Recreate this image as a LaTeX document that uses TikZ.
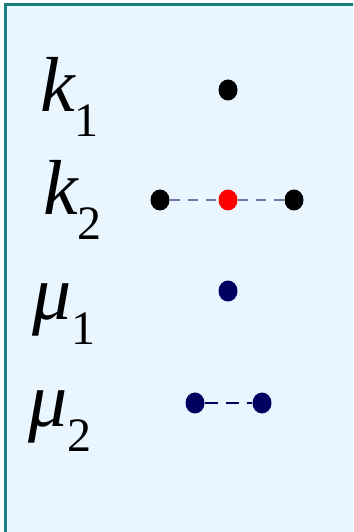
\documentclass[tikz,border=0pt]{standalone}
\usepackage{fontspec}
\setmainfont{Liberation Serif}
\newfontfamily\symfont{Liberation Serif}
\usepackage{xcolor}
\usetikzlibrary{shapes.geometric, positioning}
\definecolor{frameteal}{HTML}{1A7F7F}
\definecolor{panelblue}{HTML}{EAF6FF}
\definecolor{linkgray}{HTML}{7078A8}
\definecolor{darknavy}{HTML}{000060}
\tikzstyle{symlabel} = [anchor=base west, inner sep=0pt, font=\symfont\fontsize{78}{80}\selectfont\itshape]
\tikzstyle{kdot} = [ellipse, minimum width=19pt, minimum height=21pt, inner sep=0pt, fill=black]
\tikzstyle{mudot} = [kdot, fill=darknavy]
\tikzstyle{klink} = [draw=linkgray, line width=2.5pt, dash pattern=on 10pt off 8pt]
\tikzstyle{mulink} = [draw=darknavy, line width=2pt, dash pattern=on 13pt off 8pt]
\newcommand{\lowsub}[1]{\raisebox{-25pt}{\symfont\upshape\fontsize{48}{48}\selectfont #1}}

\begin{document}
\begin{tikzpicture}[x=1pt, y=1pt]
  \useasboundingbox (0,0) rectangle (353,532);
  \clip (0,0) rectangle (353,532);
  \draw[frameteal, line width=3pt, fill=panelblue] (5,-20) rectangle (373,527);
  % symbols
  \node (k1) [symlabel] at (40,420) {k\lowsub{1}};
  \node (k2) [symlabel] at (43,317) {k\lowsub{2}};
  \node (mu1) [symlabel] at (32,212) {μ\lowsub{1}};
  \node (mu2) [symlabel] at (28,105) {μ\lowsub{2}};
  % dots
  \node (k1c) [kdot] at (228,442) {};
  \node (k2l) [kdot] at (160,332) {};
  \node (k2c) [kdot, fill=red] at (228,332) {};
  \node (k2r) [kdot] at (294,332) {};
  \node (mu1c) [mudot] at (228,241) {};
  \node (mu2l) [mudot] at (195,129) {};
  \node (mu2r) [mudot] at (262,129) {};
  \draw[klink] (k2l) -- (k2c);
  \draw[klink] (k2c) -- (k2r);
  \draw[mulink] (mu2l) -- (mu2r);
\end{tikzpicture}
\end{document}
